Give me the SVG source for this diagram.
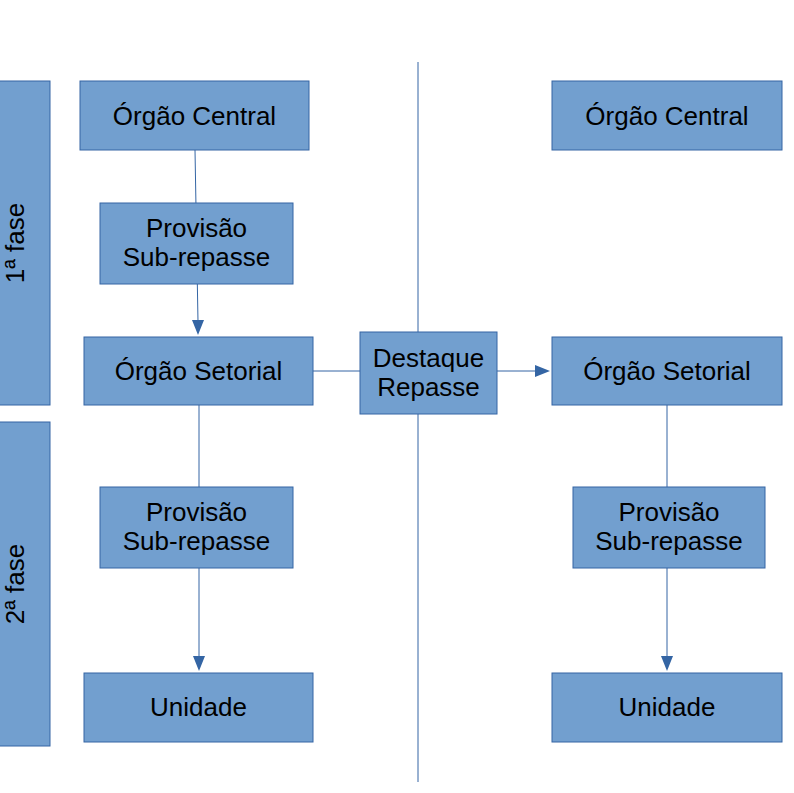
<svg xmlns="http://www.w3.org/2000/svg" width="794" height="793" viewBox="0 0 794 793">
<style>
.box{fill:#729fcf;stroke:#3465a4;stroke-width:1}
.t{font-family:"Liberation Sans",Arial,sans-serif;font-size:26px;fill:#000;text-anchor:middle}
.c{stroke:#3465a4;stroke-width:1;fill:none}
.h{fill:#3465a4}
</style>
<rect width="794" height="793" fill="#fff"/>
<g id="connectors">
<line class="c" x1="418" y1="62" x2="418" y2="782"/>
<path class="c" d="M195,150 L198,322"/>
<path class="h" d="M192,320 L204,320 L198,335 Z"/>
<path class="c" d="M199,405 L199,658"/>
<path class="h" d="M193,656 L205,656 L199,671 Z"/>
<path class="c" d="M313,371 L360,371"/>
<path class="c" d="M497,371 L537,371"/>
<path class="h" d="M535,365 L550,371 L535,377 Z"/>
<path class="c" d="M667,405 L667,658"/>
<path class="h" d="M661,656 L673,656 L667,671 Z"/>
</g>
<g id="fase1"><rect class="box" x="-1" y="81" width="51" height="324"/><text class="t" transform="translate(24,243) rotate(-90)">1ª fase</text></g>
<g id="fase2"><rect class="box" x="-1" y="422" width="51" height="324"/><text class="t" transform="translate(24,584) rotate(-90)">2ª fase</text></g>
<g id="central-l"><rect class="box" x="80" y="81" width="229" height="69"/><text class="t" x="194.5" y="125">Órgão Central</text></g>
<g id="provisao1-l"><rect class="box" x="100" y="203" width="193" height="81"/><text class="t" x="196.5" y="237">Provisão</text><text class="t" x="196.5" y="266">Sub-repasse</text></g>
<g id="setorial-l"><rect class="box" x="84" y="337" width="229" height="68"/><text class="t" x="198.5" y="380">Órgão Setorial</text></g>
<g id="provisao2-l"><rect class="box" x="100" y="487" width="193" height="81"/><text class="t" x="196.5" y="521">Provisão</text><text class="t" x="196.5" y="550">Sub-repasse</text></g>
<g id="unidade-l"><rect class="box" x="84" y="673" width="229" height="69"/><text class="t" x="198.5" y="716">Unidade</text></g>
<g id="destaque"><rect class="box" x="360" y="332" width="137" height="82"/><text class="t" x="428.5" y="367">Destaque</text><text class="t" x="428.5" y="396">Repasse</text></g>
<g id="central-r"><rect class="box" x="552" y="81" width="230" height="69"/><text class="t" x="667" y="125">Órgão Central</text></g>
<g id="setorial-r"><rect class="box" x="552" y="337" width="230" height="68"/><text class="t" x="667" y="380">Órgão Setorial</text></g>
<g id="provisao-r"><rect class="box" x="573" y="487" width="192" height="81"/><text class="t" x="669" y="521">Provisão</text><text class="t" x="669" y="550">Sub-repasse</text></g>
<g id="unidade-r"><rect class="box" x="552" y="673" width="230" height="69"/><text class="t" x="667" y="716">Unidade</text></g>
</svg>
